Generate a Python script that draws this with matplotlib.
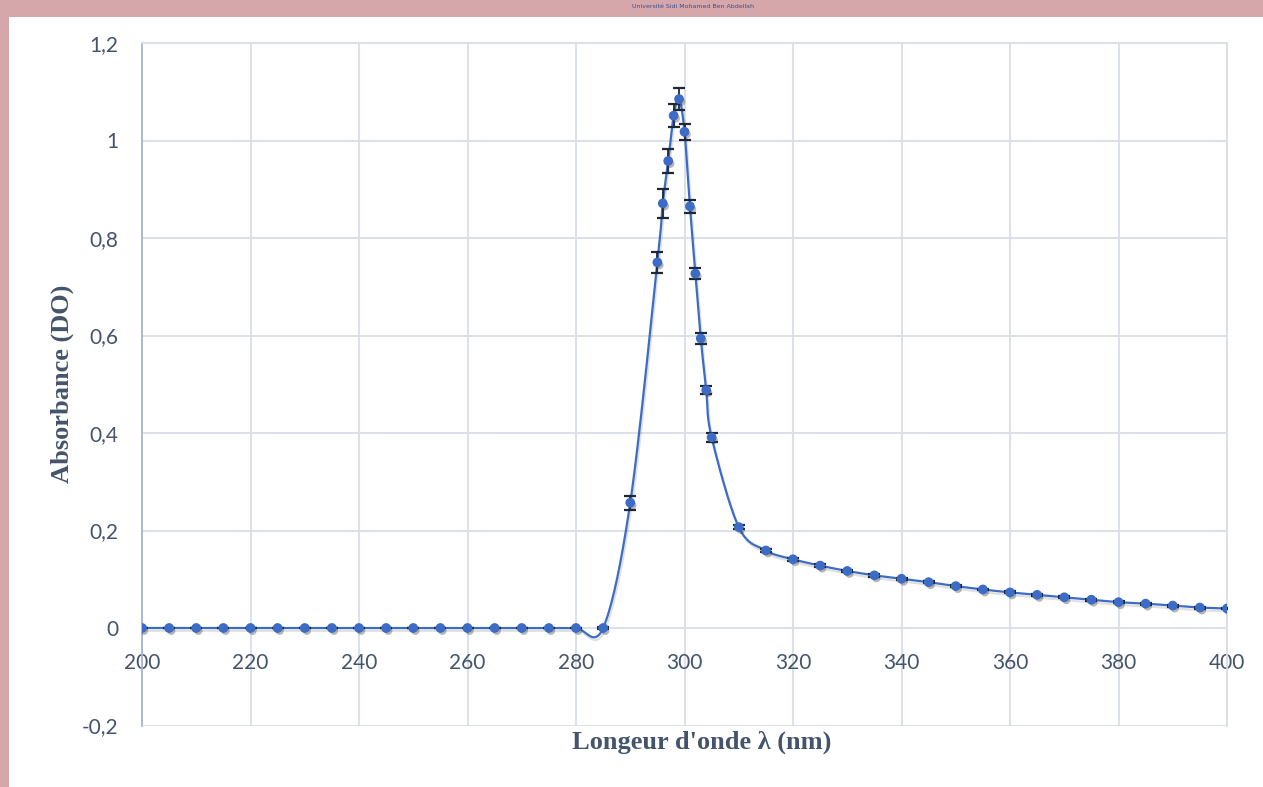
import numpy as np
import matplotlib
matplotlib.use('Agg')
from matplotlib import pyplot as plt
from matplotlib.patches import Rectangle
import matplotlib.patheffects as pe

# wavelength (nm) and absorbance (DO) with error bars
wavelength = [200, 205, 210, 215, 220, 225, 230, 235, 240, 245, 250, 255, 260,
              265, 270, 275, 280, 285, 290, 295, 296, 297, 298, 299, 300, 301,
              302, 303, 304, 305, 310, 315, 320, 325, 330, 335, 340, 345, 350,
              355, 360, 365, 370, 375, 380, 385, 390, 395, 400]
absorbance = [0, 0, 0, 0, 0, 0, 0, 0, 0, 0, 0, 0, 0,
              0, 0, 0, 0, 0, 0.257, 0.750, 0.871, 0.958, 1.051, 1.085, 1.018, 0.865,
              0.727, 0.594, 0.488, 0.391, 0.207, 0.159, 0.141, 0.128, 0.117, 0.108, 0.101, 0.094, 0.086,
              0.079, 0.073, 0.068, 0.063, 0.058, 0.053, 0.050, 0.046, 0.042, 0.040]
err = [0, 0, 0, 0, 0, 0, 0, 0, 0, 0, 0, 0, 0,
       0, 0, 0, 0, 0.002, 0.014, 0.021, 0.029, 0.025, 0.024, 0.022, 0.016, 0.013,
       0.012, 0.011, 0.009, 0.009, 0.004, 0.003, 0.003, 0.003, 0.003, 0.003, 0.002, 0.002, 0.002,
       0.002, 0.002, 0.002, 0.002, 0.002, 0.002, 0.002, 0.002, 0.002, 0.002]

x_ticks = [200, 220, 240, 260, 280, 300, 320, 340, 360, 380, 400]
y_ticks = [-0.2, 0, 0.2, 0.4, 0.6, 0.8, 1, 1.2]

TEXT = '#44546A'
GRID = '#D9DEE7'
BLUE = '#3C6CC6'


def smoothCurve(x, y, steps=30):
    # excel-like smoothed line (bezier through points, catmull-rom controls)
    p = np.column_stack([x, y]).astype(float)
    n = len(p)
    out = []
    for i in range(n - 1):
        p0 = p[i - 1] if i > 0 else p[i]
        p3 = p[i + 2] if i + 2 < n else p[i + 1]
        c1 = p[i] + (p[i + 1] - p0) / 6.0
        c2 = p[i + 1] - (p3 - p[i]) / 6.0
        t = np.linspace(0, 1, steps)[:, None]
        seg = ((1 - t) ** 3) * p[i] + 3 * ((1 - t) ** 2) * t * c1 \
            + 3 * (1 - t) * t ** 2 * c2 + t ** 3 * p[i + 1]
        out.append(seg if i == 0 else seg[1:])
    out = np.vstack(out)
    return out[:, 0], out[:, 1]


fig = plt.figure(figsize=(12.63, 7.87), dpi=100)
fig.patch.set_facecolor('#D6A7AA')

# white chart area on top of the pink page
bg = fig.add_axes([0, 0, 1, 1], zorder=-5)
bg.set_axis_off()
bg.set_xlim(0, 1)
bg.set_ylim(0, 1)
bg.add_patch(Rectangle((9 / 1263, 0), 1, 1 - 17 / 787, facecolor='white', edgecolor='none'))
bg.text(632 / 1263, 1 - 7 / 787, 'Université Sidi Mohamed Ben Abdellah',
        fontsize=4.5, color='#3A4E8C', family='DejaVu Sans', va='center')

ax = fig.add_axes([142 / 1263, 1 - 725.5 / 787, 1085 / 1263, 682.5 / 787])
ax.set_facecolor('none')

sx, sy = smoothCurve(wavelength, absorbance)
ax.plot(sx, sy, color=BLUE, lw=1.6, zorder=3,
        path_effects=[pe.SimpleLineShadow(offset=(1, -2), alpha=0.12), pe.Normal()])
ax.errorbar(wavelength, absorbance, yerr=err, fmt='none', ecolor='#1E2735',
            elinewidth=1.3, capsize=4.5, capthick=1.6, zorder=4)
ax.plot(wavelength, absorbance, 'o', color=BLUE, markersize=6, zorder=5,
        path_effects=[pe.SimplePatchShadow(offset=(1.5, -2), shadow_rgbFace='#333333', alpha=0.35),
                      pe.Normal()])

ax.set_xlim(200, 400)
ax.set_ylim(-0.2, 1.2)
ax.set_xticks(x_ticks)
ax.set_yticks(y_ticks)
ax.set_yticklabels(['-0,2', '0', '0,2', '0,4', '0,6', '0,8', '1', '1,2'])
ax.grid(True, color=GRID, lw=1.3)
ax.set_axisbelow(True)

for s in ['top', 'right']:
    ax.spines[s].set_color(GRID)
    ax.spines[s].set_linewidth(1.3)
ax.spines['left'].set_color('#A9B5C8')
ax.spines['left'].set_linewidth(1.3)
ax.spines['bottom'].set_position(('data', 0))
ax.spines['bottom'].set_visible(False)

ax.tick_params(axis='both', length=0, labelsize=15, labelcolor=TEXT)
ax.tick_params(axis='x', pad=18)
ax.tick_params(axis='y', pad=17)
for lab in ax.get_xticklabels() + ax.get_yticklabels():
    lab.set_family('Lato')

ax.text(0.516, -0.024, "Longeur d'onde λ (nm)", transform=ax.transAxes, ha='center', va='center',
        fontsize=19, fontweight='bold', family=['Liberation Serif', 'DejaVu Serif'], color=TEXT)
ax.text(-0.0737, 0.5, 'Absorbance (DO)', transform=ax.transAxes, ha='center', va='center',
        rotation=90, fontsize=19, fontweight='bold', family=['Liberation Serif', 'DejaVu Serif'],
        color=TEXT)

fig.savefig('out.png', dpi=100)
